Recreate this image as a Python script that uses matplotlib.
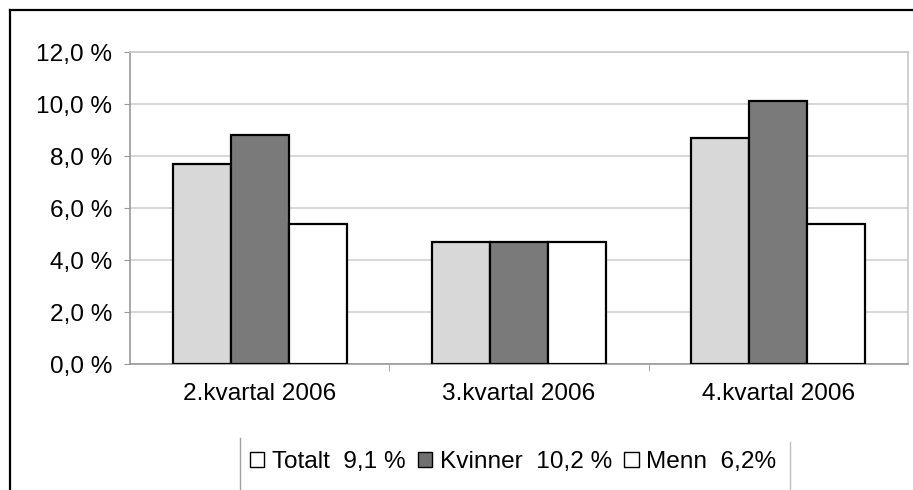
import numpy as np
import matplotlib
matplotlib.use("Agg")
import matplotlib.pyplot as plt
from matplotlib.patches import Patch
from matplotlib.lines import Line2D

plt.rcParams['font.family'] = ['Liberation Sans', 'DejaVu Sans']

# data
kvartaler = ["2.kvartal 2006", "3.kvartal 2006", "4.kvartal 2006"]
totalt = [7.7, 4.7, 8.7]
kvinner = [8.8, 4.7, 10.1]
menn = [5.4, 4.7, 5.4]
serie_navn = ["Totalt  9,1 %", "Kvinner  10,2 %", "Menn  6,2%"]
yticks = [0, 2, 4, 6, 8, 10, 12]
ytick_labels = ["0,0 %", "2,0 %", "4,0 %", "6,0 %", "8,0 %", "10,0 %", "12,0 %"]

farger = ["#d8d8d8", "#7a7a7a", "#ffffff"]

fig = plt.figure(figsize=(9.13, 4.90), dpi=100)
ax = fig.add_axes([130 / 913, 1 - 364 / 490, 778 / 913, 312 / 490])

x = np.arange(len(kvartaler))
w = 0.224
for i, (vals, c) in enumerate(zip([totalt, kvinner, menn], farger)):
    ax.bar(x + (i - 1) * w, vals, width=w, color=c, edgecolor="black",
           linewidth=1.6, zorder=3)

ax.set_xlim(-0.5, 2.5)
ax.set_ylim(0, 12)
ax.set_yticks(yticks)
ax.set_yticklabels(ytick_labels, fontsize=17.6)
ax.set_xticks(x)
ax.set_xticklabels(kvartaler, fontsize=17.6)
ax.tick_params(axis="x", length=0, pad=14)
ax.tick_params(axis="y", length=4, color="#999999", pad=9)
ax.set_xticks([0.5, 1.5], minor=True)
ax.tick_params(axis="x", which="minor", length=5, color="#999999")
ax.yaxis.grid(True, color="#d0d0d0", linewidth=1.2, zorder=0)
for s in ax.spines.values():
    s.set_color("#c8c8c8")
    s.set_linewidth(1.2)
ax.spines["left"].set_color("#999999")
ax.spines["bottom"].set_color("#999999")

handles = [Patch(facecolor="white", edgecolor="black", linewidth=1.0),
           Patch(facecolor="#707070", edgecolor="black", linewidth=1.0),
           Patch(facecolor="white", edgecolor="black", linewidth=1.0)]
leg = fig.legend(handles, serie_navn, loc="center", ncol=3,
                 bbox_to_anchor=(513 / 913, 1 - 462 / 490),
                 frameon=False, fontsize=17.6, handlelength=0.6,
                 handleheight=0.6, handletextpad=0.3, columnspacing=0.5)

# legend box side lines and outer frame
fig.add_artist(Line2D([240 / 913, 240 / 913], [0, 1 - 438 / 490],
                      color="#a0a0a0", linewidth=1.0))
fig.add_artist(Line2D([790 / 913, 790 / 913], [0, 1 - 442 / 490],
                      color="#c0c0c0", linewidth=1.0))
fig.add_artist(Line2D([10 / 913, 1], [1 - 10 / 490, 1 - 10 / 490],
                      color="black", linewidth=1.6))
fig.add_artist(Line2D([10 / 913, 10 / 913], [0, 1 - 10 / 490],
                      color="black", linewidth=1.6))

fig.savefig("out.png", dpi=100)
